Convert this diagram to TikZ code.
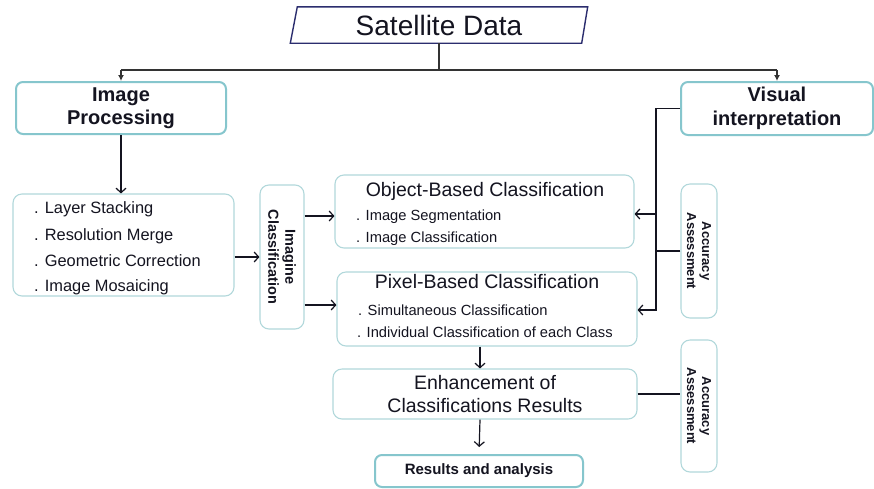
\documentclass[tikz,border=0pt]{standalone}
\usepackage{fontspec}
\setmainfont{Liberation Sans}
\usetikzlibrary{arrows.meta}
\definecolor{navy}{HTML}{2B2D6E}
\definecolor{tealA}{HTML}{86C6CD}
\definecolor{tealB}{HTML}{B2D8DB}
\definecolor{ink}{HTML}{141420}
\begin{document}
\begin{tikzpicture}[x=1pt,y=-1pt,
  box/.style={draw=tealB,line width=1.1pt,rounded corners=9pt,minimum width=#1,inner sep=0pt},
  boxb/.style={draw=tealA,line width=2pt,rounded corners=7pt,inner sep=0pt},
  txt/.style={text=ink,inner sep=0pt},
  conn/.style={draw=ink,line width=1.2pt},
  arr/.style={conn,-{Straight Barb[length=4.5pt,width=10pt]}},
  top/.style={draw=black!80,line width=1.8pt}]
\useasboundingbox[fill=white] (0,0) rectangle (874,488);
% Satellite Data
\node[txt,minimum width=291,minimum height=36,font=\fontsize{28}{32}\selectfont] (sat) at (439,25) {Satellite Data};
\draw[navy,line width=1.4pt] ([xshift=-3]sat.south west) -- ([xshift=4]sat.north west) -- ([xshift=3]sat.north east) -- ([xshift=-3]sat.south east) -- cycle;
% Top boxes
\node[boxb,minimum width=210,minimum height=52,align=center,text=ink,font=\fontsize{20}{23.5}\selectfont\bfseries] (ip) at (121,108) {Image\\Processing};
\node[boxb,minimum width=192,minimum height=53,align=center,text=ink,font=\fontsize{20}{23.5}\selectfont\bfseries] (vi) at (777,108.5) {Visual\\interpretation};
\coordinate (jl) at (121,70);
\coordinate (jr) at (777,70);
\draw[top] (sat.south) -- (sat.south |- jl);
\draw[top] (jl) -- (jr);
\draw[top,-{Latex[length=6pt,width=6pt]}] (jl) -- (ip.north);
\draw[top,-{Latex[length=6pt,width=6pt]}] (jr) -- (vi.north);
% list box
\node[box=221pt,minimum height=102] (lb) at (123.5,245) {};
\node[txt,anchor=base west,font=\fontsize{16.4}{19}\selectfont] (l1) at (34,213) {. Layer Stacking};
\node[txt,anchor=base west,font=\fontsize{16.4}{19}\selectfont] (l2) at (34,240) {. Resolution Merge};
\node[txt,anchor=base west,font=\fontsize{16.4}{19}\selectfont] (l3) at (34,266) {. Geometric Correction};
\node[txt,anchor=base west,font=\fontsize{16.4}{19}\selectfont] (l4) at (34,291) {. Image Mosaicing};
\draw[arr] (ip.south) -- (lb.north -| ip.south);
% Imagine Classification
\node[box=44pt,minimum height=144] (ic) at (282,257) {};
\node[txt,rotate=-90,align=center,font=\fontsize{14.5}{17}\selectfont\bfseries] (ict) at (ic.center) {Imagine\\Classification};
\draw[arr] (lb.east |- ic.west) -- (ic.west);
% Object-based
\node[box=299pt,minimum height=73] (ob) at (484.5,211.5) {};
\node[txt,anchor=base,font=\fontsize{19.5}{22}\selectfont] (obt) at (485,196) {Object-Based Classification};
\node[txt,anchor=base west,font=\fontsize{14.7}{17}\selectfont] (ob1) at (356,220) {. Image Segmentation};
\node[txt,anchor=base west,font=\fontsize{14.7}{17}\selectfont] (ob2) at (356,242) {. Image Classification};
% Pixel-based
\node[box=300pt,minimum height=74] (pb) at (487,309) {};
\node[txt,anchor=base,font=\fontsize{19.5}{22}\selectfont] (pbt) at (487,288) {Pixel-Based Classification};
\node[txt,anchor=base west,font=\fontsize{14.7}{17}\selectfont] (pb1) at (358,315) {. Simultaneous Classification};
\node[txt,anchor=base west,font=\fontsize{14.7}{17}\selectfont] (pb2) at (357,337) {. Individual Classification of each Class};
\draw[arr] ([yshift=41]ic.east) -- ([yshift=-4.5]ob.west);
\draw[arr] ([yshift=-48]ic.east) -- ([yshift=4]pb.west);
% Enhancement
\node[box=304pt,minimum height=50,align=center,text=ink,font=\fontsize{19.5}{23}\selectfont] (en) at (485,394) {Enhancement of\\Classifications Results};
\draw[arr] ([xshift=-7]pb.south) -- ([xshift=-5]en.north);
% Results
\node[boxb,minimum width=208,minimum height=32,text=ink,font=\fontsize{15}{18}\selectfont\bfseries] (rs) at (479,471) {Results and analysis};
\draw[arr,shorten >=7pt] ([xshift=-5]en.south) -- (rs.north);
% Accuracy boxes
\node[box=36pt,minimum height=134] (aa1) at (699,251) {};
\node[txt,rotate=-90,align=center,font=\fontsize{13}{15}\selectfont\bfseries] (aa1t) at (aa1.center) {Accuracy\\Assessment};
\node[box=36pt,minimum height=132] (aa2) at (699,406) {};
\node[txt,rotate=-90,align=center,font=\fontsize{13}{15}\selectfont\bfseries] (aa2t) at (aa2.center) {Accuracy\\Assessment};
\draw[conn] (en.east) -- (en.east -| aa2.west);
% visual interpretation connector
\coordinate (vbot) at (656,310);
\coordinate (vmid) at (656,214);
\draw[arr] (vi.west) -| (vbot) -- (pb.east |- vbot);
\draw[arr] (vmid) -- (ob.east |- vmid);
\draw[conn] (aa1.west) -- (aa1.west -| vbot);
\end{tikzpicture}
\end{document}
